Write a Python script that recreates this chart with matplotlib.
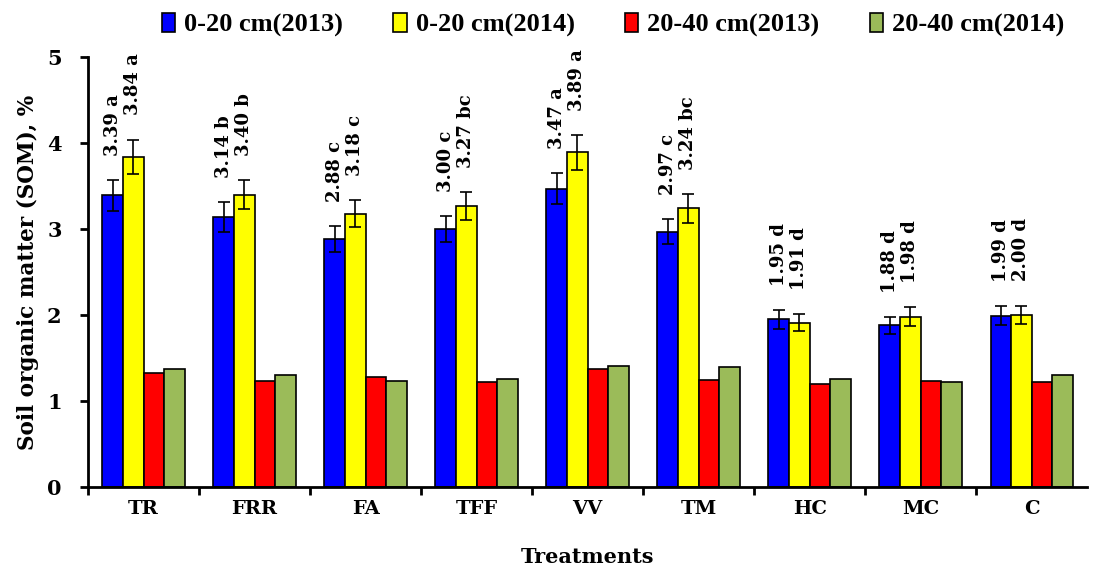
import matplotlib
matplotlib.use("Agg")
import matplotlib.pyplot as plt
import numpy as np

categories = ["TR", "FRR", "FA", "TFF", "VV", "TM", "HC", "MC", "C"]
series_names = ["0-20 cm(2013)", "0-20 cm(2014)", "20-40 cm(2013)", "20-40 cm(2014)"]

top_2013 = [3.39, 3.14, 2.88, 3.00, 3.47, 2.97, 1.95, 1.88, 1.99]
top_2014 = [3.84, 3.40, 3.18, 3.27, 3.89, 3.24, 1.91, 1.98, 2.00]
sub_2013 = [1.32, 1.23, 1.28, 1.22, 1.37, 1.25, 1.20, 1.23, 1.22]
sub_2014 = [1.37, 1.30, 1.23, 1.26, 1.41, 1.39, 1.26, 1.22, 1.30]

err_2013 = [0.18, 0.17, 0.15, 0.15, 0.18, 0.15, 0.11, 0.10, 0.11]
err_2014 = [0.20, 0.17, 0.16, 0.16, 0.20, 0.17, 0.10, 0.11, 0.11]

letters_2013 = ["a", "b", "c", "c", "a", "c", "d", "d", "d"]
letters_2014 = ["a", "b", "c", "bc", "a", "bc", "d", "d", "d"]

colors = ["#0000FF", "#FFFF00", "#FF0000", "#9BBB59"]

serif = ["DejaVu Serif"]
plt.rcParams["font.family"] = serif
plt.rcParams["font.weight"] = "bold"

fig = plt.figure(figsize=(10.95, 5.7), dpi=100)
ax = fig.add_axes([0.0804, 0.1456, 0.9126, 0.7544])

x = np.arange(len(categories))
w = 0.186
offsets = [-1.5 * w, -0.5 * w, 0.5 * w, 1.5 * w]
data = [top_2013, top_2014, sub_2013, sub_2014]
errs = [err_2013, err_2014, None, None]

for i in range(4):
    kw = {}
    if errs[i] is not None:
        kw = dict(yerr=errs[i], capsize=4.5,
                  error_kw=dict(ecolor="black", elinewidth=1.2, capthick=1.2))
    ax.bar(x + offsets[i], data[i], width=w, color=colors[i],
           edgecolor="black", linewidth=1.2, label=series_names[i], zorder=2, **kw)

for vals, errv, lets, off in [(top_2013, err_2013, letters_2013, offsets[0]),
                               (top_2014, err_2014, letters_2014, offsets[1])]:
    for xi, v, e, l in zip(x, vals, errv, lets):
        ax.text(xi + off, v + e + 0.28, f"{v:.2f} {l}", rotation=90,
                ha="center", va="bottom", fontsize=13, fontweight="bold")

ax.set_xlim(-0.5, len(categories) - 0.5)
ax.set_ylim(0, 5)
ax.set_yticks([0, 1, 2, 3, 4, 5])
ax.set_xticks(x)
ax.set_xticklabels(categories, fontsize=14, fontweight="bold")
ax.set_xticks(np.arange(len(categories)) - 0.5, minor=True)
ax.tick_params(axis="x", which="major", length=0, pad=9)
ax.tick_params(axis="x", which="minor", length=6, width=2, direction="out")
ax.tick_params(axis="y", length=6, width=2, labelsize=15, pad=13)
for t in ax.get_yticklabels():
    t.set_fontweight("bold")

for s in ["top", "right"]:
    ax.spines[s].set_visible(False)
for s in ["left", "bottom"]:
    ax.spines[s].set_linewidth(2)

ax.set_ylabel("Soil organic matter (SOM), %", fontsize=15.5, fontweight="bold", labelpad=6)
ax.set_xlabel("Treatments", fontsize=15, fontweight="bold", labelpad=21)

fig.legend(loc="upper center", bbox_to_anchor=(0.56, 1.018), ncol=4, frameon=False,
           prop=dict(family=["Liberation Serif"], weight="bold", size=19), handlelength=0.5,
           handleheight=0.7, handletextpad=0.35, columnspacing=1.9)

fig.savefig("out.png", dpi=100)
